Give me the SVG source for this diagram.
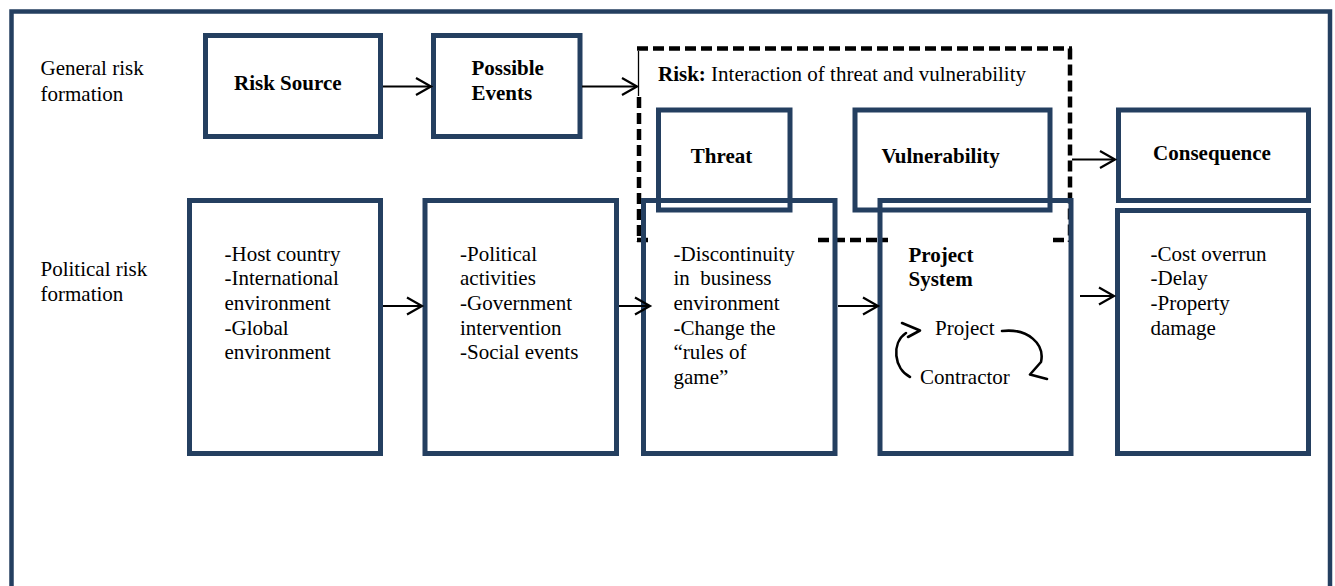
<svg xmlns="http://www.w3.org/2000/svg" width="1335" height="586" viewBox="0 0 1335 586">
  <defs>
    <style>
      .box { fill: none; stroke: #243f60; stroke-width: 5; }
      .frame { fill: none; stroke: #243f60; stroke-width: 4.5; }
      .t { font-family: "Liberation Serif", "Times New Roman", serif; font-size: 21px; fill: #000; }
      .b { font-weight: bold; }
      .dash { fill: none; stroke: #000; stroke-width: 4.5; stroke-dasharray: 11 5; }
      .conn { fill: none; stroke: #000; stroke-width: 2; }
      .cyc { fill: none; stroke: #000; stroke-width: 2.6; stroke-linecap: round; stroke-linejoin: round; }
    </style>
    <marker id="arrow" markerUnits="userSpaceOnUse" markerWidth="20" markerHeight="22" viewBox="0 0 20 22" refX="17" refY="11" orient="auto">
      <path d="M2,2.5 L17,11 L2,19.5" fill="none" stroke="#000" stroke-width="2.2"/>
    </marker>
  </defs>

  <rect width="1335" height="586" fill="#fff"/>

  <!-- outer frame (continues below the page) -->
  <rect class="frame" x="11.5" y="11.5" width="1318.5" height="620"/>

  <!-- row labels -->
  <g id="label-general">
    <text class="t" x="40.5" y="75">General risk</text>
    <text class="t" x="40.5" y="100.5">formation</text>
  </g>
  <g id="label-political">
    <text class="t" x="40.5" y="276">Political risk</text>
    <text class="t" x="40.5" y="300.5">formation</text>
  </g>

  <!-- risk envelope: interaction of threat and vulnerability -->
  <g id="risk-envelope">
    <line class="dash" x1="637" y1="48.5" x2="1072" y2="48.5"/>
    <line class="dash" x1="1070" y1="48.5" x2="1070" y2="242"/>
    <line x1="638.5" y1="51" x2="638.5" y2="96" stroke="#000" stroke-width="1.3"/>
    <line class="dash" x1="639" y1="97" x2="639" y2="242"/>
    <line class="dash" x1="637" y1="240" x2="653" y2="240"/>
    <line class="dash" x1="818" y1="240" x2="888" y2="240"/>
    <line class="dash" x1="1053" y1="240" x2="1072" y2="240"/>
    <text class="t" x="658" y="81"><tspan class="b">Risk:</tspan> Interaction of threat and vulnerability</text>
  </g>

  <!-- general chain -->
  <g id="risk-source">
    <rect class="box" x="205.5" y="35.5" width="175" height="101"/>
    <text class="t b" x="234" y="90">Risk Source</text>
  </g>
  <g id="possible-events">
    <rect class="box" x="433.5" y="35.5" width="146.5" height="101"/>
    <text class="t b" x="471.5" y="75">Possible</text>
    <text class="t b" x="471.5" y="100">Events</text>
  </g>
  <g id="threat">
    <rect class="box" x="658.5" y="110" width="131.5" height="100"/>
    <text class="t b" x="721.5" y="163" text-anchor="middle">Threat</text>
  </g>
  <g id="vulnerability">
    <rect class="box" x="855" y="110" width="195" height="100"/>
    <text class="t b" x="881.5" y="163">Vulnerability</text>
  </g>
  <g id="consequence">
    <rect class="box" x="1118.5" y="110" width="190" height="90.5"/>
    <text class="t b" x="1212" y="159.5" text-anchor="middle">Consequence</text>
  </g>

  <!-- political chain -->
  <g id="sources">
    <rect class="box" x="189.5" y="200.5" width="191" height="253"/>
    <text class="t" x="224.5" y="260.5">-Host country</text>
    <text class="t" x="224.5" y="285.2">-International</text>
    <text class="t" x="224.5" y="309.9">environment</text>
    <text class="t" x="224.5" y="334.6">-Global</text>
    <text class="t" x="224.5" y="359.3">environment</text>
  </g>
  <g id="events">
    <rect class="box" x="425" y="200.5" width="191.5" height="253"/>
    <text class="t" x="460" y="260.5">-Political</text>
    <text class="t" x="460" y="285.2">activities</text>
    <text class="t" x="460" y="309.9">-Government</text>
    <text class="t" x="460" y="334.6">intervention</text>
    <text class="t" x="460" y="359.3">-Social events</text>
  </g>
  <g id="discontinuity">
    <rect class="box" x="643.5" y="200.5" width="191.5" height="253"/>
    <text class="t" x="673.5" y="260.5">-Discontinuity</text>
    <text class="t" x="673.5" y="285.2" xml:space="preserve">in  business</text>
    <text class="t" x="673.5" y="309.9">environment</text>
    <text class="t" x="673.5" y="334.6">-Change the</text>
    <text class="t" x="673.5" y="359.3">“rules of</text>
    <text class="t" x="673.5" y="384">game”</text>
  </g>
  <g id="project-system">
    <rect class="box" x="880" y="200.5" width="191" height="253"/>
    <text class="t b" x="908.5" y="261.5">Project</text>
    <text class="t b" x="908.5" y="286">System</text>
    <text class="t" x="935" y="335">Project</text>
    <text class="t" x="920" y="383.5">Contractor</text>
    <path class="cyc" d="M1002,331 C1028,328 1045,344 1041,362 L1030,374.5 L1047,379"/>
    <path class="cyc" d="M910,377 C894,369 891,343 906,333"/>
    <path class="cyc" d="M902,323 L920,330.5 L908,337"/>
  </g>
  <g id="impacts">
    <rect class="box" x="1117.5" y="210.5" width="191" height="243"/>
    <text class="t" x="1150.5" y="260.5">-Cost overrun</text>
    <text class="t" x="1150.5" y="285.2">-Delay</text>
    <text class="t" x="1150.5" y="309.9">-Property</text>
    <text class="t" x="1150.5" y="334.6">damage</text>
  </g>

  <!-- connectors -->
  <g id="connectors">
    <line class="conn" x1="383" y1="86.5" x2="431" y2="86.5" marker-end="url(#arrow)"/>
    <line class="conn" x1="582" y1="86.5" x2="637" y2="86.5" marker-end="url(#arrow)"/>
    <line class="conn" x1="1072" y1="159.5" x2="1115" y2="159.5" marker-end="url(#arrow)"/>
    <line class="conn" x1="383" y1="306" x2="422" y2="306" marker-end="url(#arrow)"/>
    <line class="conn" x1="619" y1="306" x2="650" y2="306" marker-end="url(#arrow)"/>
    <line class="conn" x1="838" y1="306" x2="878" y2="306" marker-end="url(#arrow)"/>
    <line class="conn" x1="1080" y1="296" x2="1114" y2="296" marker-end="url(#arrow)"/>
  </g>
</svg>
